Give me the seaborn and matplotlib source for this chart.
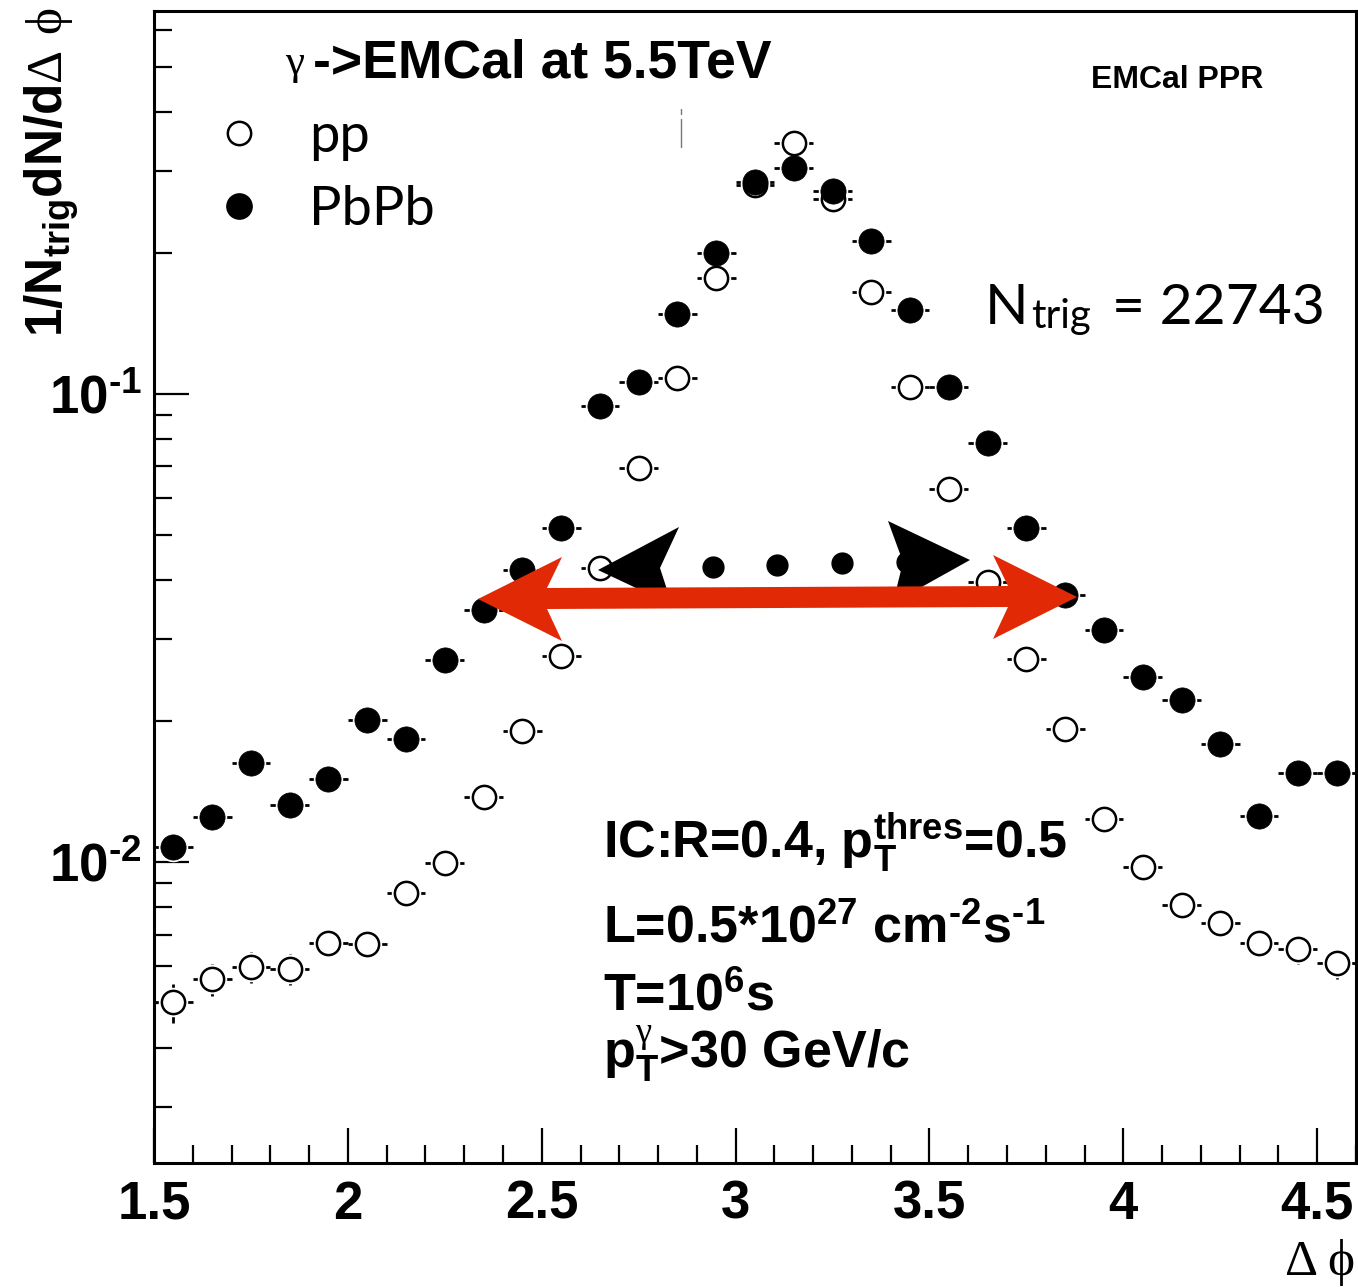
import numpy as np
import pandas as pd
import matplotlib
matplotlib.use("Agg")
import matplotlib.pyplot as plt
import seaborn as sns
from matplotlib.patches import Polygon
from matplotlib.lines import Line2D
from matplotlib.ticker import MultipleLocator, LogLocator, NullFormatter

# ---------------- data ----------------
dphi = [1.55, 1.65, 1.75, 1.85, 1.95, 2.05, 2.15, 2.25, 2.35, 2.45, 2.55,
        2.65, 2.75, 2.85, 2.95, 3.05, 3.15, 3.25, 3.35, 3.45, 3.55, 3.65,
        3.75, 3.85, 3.95, 4.05, 4.15, 4.25, 4.35, 4.45, 4.55]
pp = [0.00502, 0.00562, 0.00597, 0.00591, 0.00671, 0.00668, 0.00859, 0.00995,
      0.01377, 0.01905, 0.02755, 0.04249, 0.06948, 0.1082, 0.1770, 0.2796,
      0.3439, 0.2610, 0.1651, 0.1035, 0.06266, 0.03966, 0.02715, 0.01924,
      0.01235, 0.00976, 0.00809, 0.00741, 0.00671, 0.00652, 0.00608]
pbpb = [0.01076, 0.01248, 0.01628, 0.01323, 0.01505, 0.02011, 0.01832, 0.02702,
        0.03455, 0.04207, 0.05171, 0.09427, 0.1061, 0.1482, 0.2001, 0.2838,
        0.3040, 0.2715, 0.2123, 0.1512, 0.1035, 0.07855, 0.05171, 0.03720,
        0.03131, 0.02485, 0.02219, 0.01787, 0.01254, 0.01549, 0.01549]
pp_err = [0.00048, 0.00045, 0.00045, 0.00045, 0.00045, 0.00045, 0.0005, 0.00055,
          0.0007, 0.0008, 0.001, 0.0013, 0.0017, 0.0021, 0.0027, 0.0033,
          0.0036, 0.0032, 0.0026, 0.0021, 0.0016, 0.0012, 0.001, 0.0008,
          0.0007, 0.00055, 0.0005, 0.00045, 0.00045, 0.00045, 0.00045]
pbpb_err = [0.0005, 0.00055, 0.0006, 0.00055, 0.0006, 0.0007, 0.00065, 0.0008,
            0.0009, 0.001, 0.0012, 0.0017, 0.0018, 0.0022, 0.0026, 0.0031,
            0.0032, 0.003, 0.0027, 0.0022, 0.0018, 0.0015, 0.0012, 0.001,
            0.0009, 0.0008, 0.00075, 0.0007, 0.0006, 0.00065, 0.00065]
bin_half_width = 0.05
systems = ["pp", "PbPb"]
xticks = [1.5, 2.0, 2.5, 3.0, 3.5, 4.0, 4.5]
xtick_labels = ["1.5", "2", "2.5", "3", "3.5", "4", "4.5"]
yticks = [0.01, 0.1]
ytick_labels = [r"$\mathbf{10^{\text{-}2}}$", r"$\mathbf{10^{\text{-}1}}$"]

n = len(dphi)
df = pd.DataFrame({"dphi": dphi * 2, "value": pp + pbpb,
                   "err": pp_err + pbpb_err,
                   "system": [systems[0]] * n + [systems[1]] * n})

# ---------------- style ----------------
sns.set_theme(style="ticks")
plt.rcParams.update({
    "font.family": ["Liberation Sans", "DejaVu Sans"],
    "text.color": "black",
    "xtick.color": "black",
    "ytick.color": "black",
    "mathtext.fontset": "custom",
    "mathtext.bf": "Liberation Sans:bold",
    "mathtext.rm": "Liberation Sans:bold",
    "mathtext.it": "Liberation Sans:bold:italic",
    "mathtext.cal": "Liberation Serif",
    "mathtext.sf": "Lato",
    "axes.linewidth": 2.2,
    "axes.edgecolor": "black",
})

W, H = 1358, 1287
def fx(px):
    return px / W
def fy(py):
    return 1 - py / H

fig = plt.figure(figsize=(W / 100, H / 100), dpi=100)
ax = fig.add_axes([fx(154), fy(1163), (1356 - 154) / W, (1163 - 11) / H])
ax.set_facecolor("white")

# error bars
for sysname in systems:
    sub = df[df.system == sysname]
    ax.errorbar(sub.dphi, sub.value, xerr=bin_half_width, yerr=sub.err,
                fmt="none", ecolor="black", elinewidth=2.0, capsize=0, zorder=2)

# white halos (gap between error bar and marker)
for sysname in systems:
    sub = df[df.system == sysname]
    sns.scatterplot(data=sub, x="dphi", y="value", s=450, color="white",
                    linewidth=0, zorder=3, ax=ax, legend=False)

pp_df = df[df.system == "pp"]
pb_df = df[df.system == "PbPb"]
sns.scatterplot(data=pp_df, x="dphi", y="value", s=280, facecolor="white",
                edgecolor="black", linewidth=1.8, zorder=4, ax=ax, legend=False)
sns.scatterplot(data=pb_df, x="dphi", y="value", s=330, color="black",
                edgecolor="black", linewidth=0.5, zorder=5, ax=ax, legend=False)

ax.set_yscale("log")
ax.set_xlim(1.5, 4.60)
ax.set_ylim(0.002275, 0.658)
ax.set_xlabel("")
ax.set_ylabel("")

ax.set_xticks(xticks, labels=xtick_labels)
ax.xaxis.set_minor_locator(MultipleLocator(0.1))
ax.set_yticks(yticks, labels=ytick_labels)
ax.yaxis.set_minor_locator(LogLocator(base=10, subs=np.arange(2, 10)))
ax.yaxis.set_minor_formatter(NullFormatter())

ax.tick_params(which="major", direction="in", length=25, width=1.6,
               top=False, right=False, pad=12, colors="black")
ax.tick_params(which="minor", direction="in", length=13, width=1.6,
               top=False, right=False)
ax.tick_params(axis="y", which="major", pad=9)
for lab in ax.get_xticklabels():
    lab.set_fontfamily("Liberation Sans")
    lab.set_fontweight("bold")
    lab.set_fontsize(38)
for lab in ax.get_yticklabels():
    lab.set_fontsize(38)
for sp in ax.spines.values():
    sp.set_visible(True)
    sp.set_linewidth(2.2)

# legend
handles = [Line2D([], [], ls="none", marker="o", ms=16.8, mfc="white",
                  mec="black", mew=1.8),
           Line2D([], [], ls="none", marker="o", ms=18.2, mfc="black",
                  mec="black")]
leg = ax.legend(handles, systems, loc="upper left",
                bbox_to_anchor=(fx(212), fy(112)), bbox_transform=fig.transFigure,
                frameon=False, borderpad=0, borderaxespad=0, handlelength=1.0,
                handletextpad=0.8, labelspacing=0.45,
                prop={"family": "Lato", "size": 39})

# texts
fig.text(fx(285), fy(74), "γ", family=["Liberation Serif", "DejaVu Serif"],
         fontsize=31, ha="left", va="baseline")
fig.text(fx(313), fy(77), "->EMCal at 5.5TeV", family="Liberation Sans",
         fontweight="bold", fontsize=38.5, ha="left", va="baseline")
fig.text(fx(1177), fy(80), "EMCal PPR", family="Liberation Sans",
         fontweight="bold", fontsize=23, ha="center", va="center")
fig.text(fx(985), fy(324), "N", family="Lato", fontsize=41,
         ha="left", va="baseline")
fig.text(fx(1031), fy(328), "trig", family="Lato", fontsize=29,
         ha="left", va="baseline")
fig.text(fx(1325), fy(324), "= 22743", family="Lato", fontsize=41,
         ha="right", va="baseline")

blk = dict(family="Liberation Sans", fontweight="bold", fontsize=37.5,
           ha="left", va="baseline")
fig.text(fx(603), fy(858), r"IC:R=0.4, $\mathbf{p_{T}^{thres}}$=0.5", **blk)
fig.text(fx(603), fy(942),
         r"L=0.5*10$^{\mathbf{27}}$ cm$^{\mathbf{\text{-}2}}$s$^{\mathbf{\text{-}1}}$",
         **blk)
fig.text(fx(603), fy(1010), r"T=10$^{\mathbf{6}}$s", **blk)
fig.text(fx(603), fy(1068), r"$\mathbf{p}_{\mathbf{T}}^{\mathcal{\gamma}}$>30 GeV/c",
         **blk)

# axis titles
fig.text(fx(52), fy(8), r"$\mathbf{1/N_{trig}dN/d}\mathcal{\Delta\ \phi}$",
         rotation=90, ha="center", va="top", fontsize=37)
fig.text(fx(1355), fy(1262), "Δ ϕ", family=["Liberation Serif", "DejaVu Serif"],
         fontsize=37, ha="right", va="center")

# overlay annotations (drawn on top of the figure)
red = "#e12a05"
red_arrow = [(478, 599), (562, 557), (547, 588), (1008, 586), (993, 555),
             (1077, 597), (993, 639), (1008, 607), (547, 609), (562, 641)]
fig.add_artist(Polygon([(fx(a), fy(b)) for a, b in red_arrow], closed=True,
                       facecolor=red, edgecolor="none", zorder=10,
                       transform=fig.transFigure))
left_head = [(598, 570), (679, 527), (660, 568), (672, 605)]
right_head = [(970, 560), (888, 521), (903, 562), (893, 603)]
for poly in (left_head, right_head):
    fig.add_artist(Polygon([(fx(a), fy(b)) for a, b in poly], closed=True,
                           facecolor="black", edgecolor="none", zorder=9,
                           transform=fig.transFigure))
dot_x = [648, 713, 777, 842, 907]
dot_y = [568, 567, 565, 563, 562]
fig.add_artist(Line2D([fx(a) for a in dot_x], [fy(b) for b in dot_y], ls="none",
                      marker="o", ms=15, mfc="black", mec="black", zorder=8,
                      transform=fig.transFigure))
# small stray stroke
fig.add_artist(Line2D([fx(681), fx(681)], [fy(109), fy(114)], color="#777777",
                      lw=1.0, transform=fig.transFigure))
fig.add_artist(Line2D([fx(681), fx(681)], [fy(119), fy(147)], color="#777777",
                      lw=1.0, transform=fig.transFigure))

fig.savefig("out.png", dpi=100, facecolor="white")
